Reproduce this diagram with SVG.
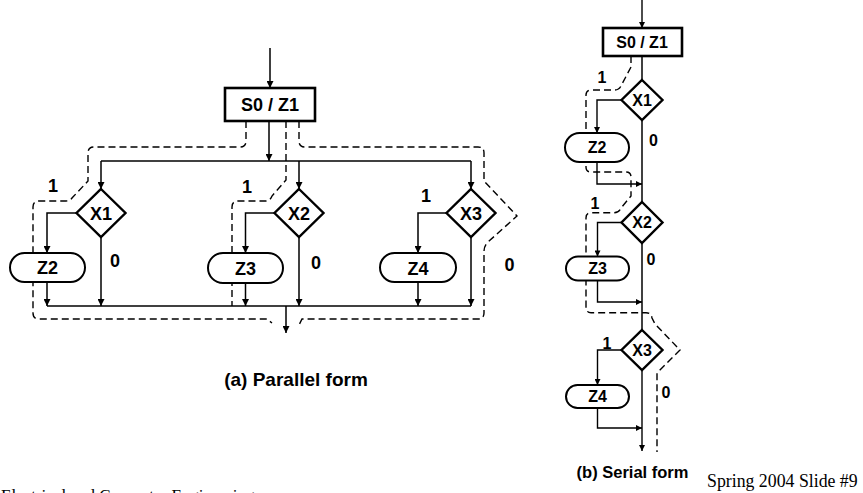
<svg xmlns="http://www.w3.org/2000/svg" width="863" height="493" viewBox="0 0 863 493">
<defs>
<marker id="ah" viewBox="0 0 10 10" refX="10" refY="5" markerWidth="8" markerHeight="7" markerUnits="userSpaceOnUse" orient="auto"><path d="M0,0 L10,5 L0,10 z" fill="#000"/></marker>
<marker id="ahs" viewBox="0 0 10 10" refX="10" refY="5" markerWidth="7" markerHeight="6" markerUnits="userSpaceOnUse" orient="auto"><path d="M0,0 L10,5 L0,10 z" fill="#000"/></marker>
</defs>
<style>
.ln{fill:none;stroke:#000;stroke-width:1.5}
.la{fill:none;stroke:#000;stroke-width:1.5;marker-end:url(#ah)}
.ls{fill:none;stroke:#000;stroke-width:1.4;marker-end:url(#ahs)}
.ds{fill:none;stroke:#000;stroke-width:1.4;stroke-dasharray:7,4}
.bx{fill:#fff;stroke:#000;stroke-width:2.6}
.dm{fill:#fff;stroke:#000;stroke-width:2.4}
.ov{fill:#fff;stroke:#000;stroke-width:2}
.t{font-family:"Liberation Sans",Arial,sans-serif;font-weight:bold;font-size:18px;text-anchor:middle;fill:#000}
.ts{font-family:"Liberation Sans",Arial,sans-serif;font-weight:bold;font-size:16px;text-anchor:middle;fill:#000}
.f{font-family:"Liberation Serif","Times New Roman",serif;font-size:17px;fill:#000}
</style>
<rect width="863" height="493" fill="#fff"/>

<g id="dashed">
<path class="ds" d="M246,121 V141 Q246,147 240,147 H94 Q88,147 88,153 V181 L72,198 Q70,201 66,201 H39 Q33,201 33,207 V313 Q33,319 39,319 H267 L272,323"/>
<path class="ds" d="M286,121 V180 L272,196 Q270,201 266,201 H238 Q232,201 232,207 V306"/>
<path class="ds" d="M299,121 V141 Q299,147 305,147 H478 Q484,147 484,153 V181 L517,216 L488,242 Q484,246 484,251 V313 Q484,319 478,319 H302 L298,327"/>
<path class="ds" d="M631,56 V67 L621,86 Q619,90 615,90 H591 Q586,90 586,95 V167 Q586,172 591,172 H626 Q631,172 631,177 V196 L621,208 Q619,212.7 614,212.7 H591 Q586,212.7 586,218 V307 Q586,312.7 591,312.7 H646 Q651,312.7 652,318 L655,324 L680,350 L657,373 V452"/>
</g>

<g id="connectors">
<line class="la" x1="270" y1="48" x2="270" y2="88"/>
<line class="la" x1="269" y1="121" x2="269" y2="161"/>
<line class="ln" x1="101" y1="161" x2="471" y2="161"/>
<line class="la" x1="101" y1="161" x2="101" y2="189"/>
<line class="la" x1="299" y1="161" x2="299" y2="189"/>
<line class="la" x1="471" y1="161" x2="471" y2="189"/>
<path class="la" d="M77,213 H47 V253"/>
<path class="la" d="M274.5,213 H245.5 V253"/>
<path class="la" d="M446.5,213 H418 V253"/>
<line class="la" x1="47" y1="282" x2="47" y2="306"/>
<line class="la" x1="245.5" y1="283" x2="245.5" y2="306"/>
<line class="la" x1="418" y1="282" x2="418" y2="306"/>
<line class="la" x1="101" y1="237" x2="101" y2="306"/>
<line class="la" x1="299" y1="237" x2="299" y2="306"/>
<line class="la" x1="471" y1="237" x2="471" y2="306"/>
<line class="ln" x1="47" y1="306" x2="471" y2="306"/>
<line class="la" x1="286" y1="306" x2="286" y2="333"/>

<line class="ls" x1="642" y1="0" x2="642" y2="28"/>
<line class="ln" x1="642" y1="56" x2="642" y2="80"/>
<path class="ls" d="M621.5,100 H597 V133"/>
<path class="ls" d="M597,162 V184 H642"/>
<line class="ln" x1="642" y1="120" x2="642" y2="202"/>
<path class="ls" d="M621.5,222.5 H597.5 V256.5"/>
<path class="ls" d="M597.5,280.5 V302 H642"/>
<line class="ln" x1="642" y1="243" x2="642" y2="330"/>
<path class="ls" d="M621.5,350 H597.5 V385"/>
<path class="ls" d="M597.5,408 V428 H642"/>
<line class="ls" x1="642" y1="370" x2="642" y2="451"/>
</g>

<g id="p-s0"><rect class="bx" x="225" y="88" width="90" height="33"/><text class="t" x="270" y="111">S0 / Z1</text></g>
<g id="p-x1"><polygon class="dm" points="101,189 125.5,213 101,237 76.5,213"/><text class="t" x="101" y="219.5">X1</text></g>
<g id="p-x2"><polygon class="dm" points="299,189 323.5,213 299,237 274.5,213"/><text class="t" x="299" y="219.5">X2</text></g>
<g id="p-x3"><polygon class="dm" points="471,189 495.5,213 471,237 446.5,213"/><text class="t" x="471" y="219.5">X3</text></g>
<g id="p-z2"><rect class="ov" x="10" y="253" width="75" height="29" rx="14.5"/><text class="t" x="47.5" y="274">Z2</text></g>
<g id="p-z3"><rect class="ov" x="208" y="253" width="75" height="30" rx="15"/><text class="t" x="245.5" y="274.5">Z3</text></g>
<g id="p-z4"><rect class="ov" x="380" y="253" width="76" height="29" rx="14.5"/><text class="t" x="418" y="274.5">Z4</text></g>
<g id="p-labels">
<text class="t" x="53" y="191.5">1</text>
<text class="t" x="247" y="193">1</text>
<text class="t" x="426" y="201.5">1</text>
<text class="t" x="115" y="266.5">0</text>
<text class="t" x="316" y="268.5">0</text>
<text class="t" x="509.5" y="270.5">0</text>
<text class="t" x="296" y="385.5" style="font-size:19px">(a) Parallel form</text>
</g>

<g id="s-s0"><rect class="bx" x="603" y="28" width="79" height="28"/><text class="ts" x="642" y="47.5">S0 / Z1</text></g>
<g id="s-x1"><polygon class="dm" points="642,80 662.5,100 642,120 621.5,100"/><text class="ts" x="642" y="105.5">X1</text></g>
<g id="s-x2"><polygon class="dm" points="642,202 662.5,222.5 642,243 621.5,222.5"/><text class="ts" x="642" y="228">X2</text></g>
<g id="s-x3"><polygon class="dm" points="642,330 662.5,350 642,370 621.5,350"/><text class="ts" x="642" y="355.5">X3</text></g>
<g id="s-z2"><rect class="ov" x="565" y="133" width="64" height="29" rx="14.5"/><text class="ts" x="597" y="153">Z2</text></g>
<g id="s-z3"><rect class="ov" x="566" y="256.5" width="63" height="24" rx="12"/><text class="ts" x="597.5" y="274">Z3</text></g>
<g id="s-z4"><rect class="ov" x="566" y="385" width="63" height="23" rx="11.5"/><text class="ts" x="597.5" y="402">Z4</text></g>
<g id="s-labels">
<text class="ts" x="602" y="83">1</text>
<text class="ts" x="595" y="209">1</text>
<text class="ts" x="607" y="348.5">1</text>
<text class="ts" x="653.5" y="146">0</text>
<text class="ts" x="651" y="265">0</text>
<text class="ts" x="666" y="397.5">0</text>
<text class="ts" x="632.5" y="478" style="font-size:16.5px">(b) Serial form</text>
</g>

<g id="footer">
<text class="f" x="707" y="487" style="font-size:17.8px">Spring 2004 Slide #9</text>
<text class="f" x="1" y="501">Electrical and Computer Engineering</text>
</g>
</svg>
